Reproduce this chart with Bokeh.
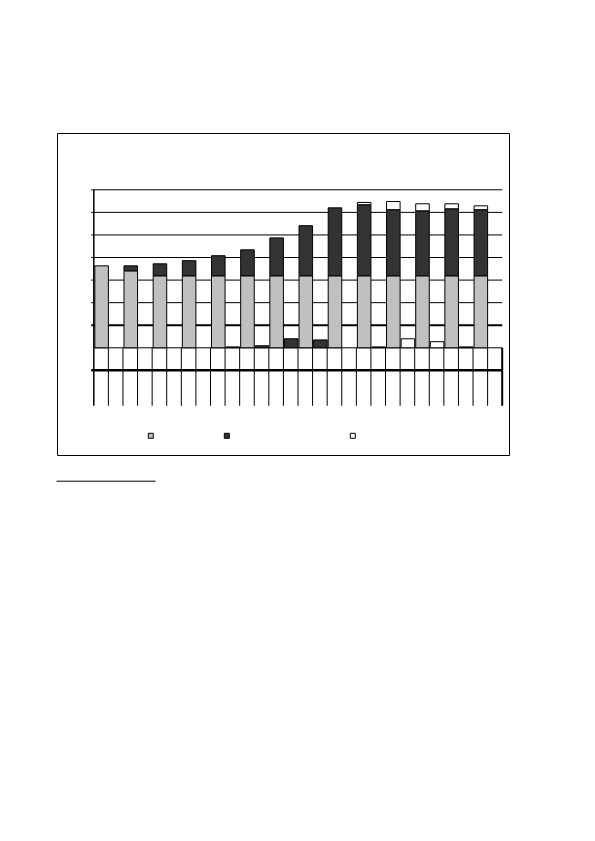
from bokeh.plotting import figure
from bokeh.models import Range1d
from bokeh.embed import file_html
from bokeh.resources import INLINE

# ---- data (value units = gridline steps) ----
main_gray = [3.63, 3.41, 3.19, 3.19, 3.19, 3.19, 3.19, 3.19, 3.19, 3.19, 3.19, 3.19, 3.19, 3.19]
main_dark = [0.00, 0.22, 0.53, 0.67, 0.89, 1.15, 1.68, 2.22, 3.01, 3.15, 2.93, 2.88, 2.97, 2.93]
main_white = [0.00, 0.00, 0.00, 0.00, 0.00, 0.00, 0.00, 0.00, 0.00, 0.10, 0.36, 0.31, 0.22, 0.17]
side_dark = [0.00, 0.00, 0.00, 0.00, 0.04, 0.09, 0.40, 0.35, 0.00, 0.04, 0.00, 0.00, 0.04, 0.00]
side_white = [0.00, 0.00, 0.00, 0.00, 0.00, 0.00, 0.00, 0.00, 0.00, 0.00, 0.40, 0.27, 0.00, 0.00]
gridlines = [1, 2, 3, 4, 5, 6, 7]
n_slots = 28
y_bottom = -2.57

GRAY = "#c0c0c0"
DARK = "#333333"

# ---- layout constants (pixel mapping) ----
X0, SX = 93.3, 14.586
Y0, SY = 347.3, 22.57
def ux(px): return (px - X0) / SX
def uy(py): return (Y0 - py) / SY

OFF = 0  # page origin of the figure
W, H = 579, 500
fl, fr, ft, fb = 50, 515, 125, 490
p = figure(width=W, height=H, output_backend="svg", toolbar_location=None,
           x_range=Range1d(ux(fl), ux(fr)), y_range=Range1d(uy(fb), uy(ft)),
           min_border_left=fl - OFF, min_border_right=OFF + W - fr,
           min_border_top=ft - OFF, min_border_bottom=OFF + H - fb,
           x_axis_location=None, y_axis_location=None)
p.grid.visible = False
p.outline_line_color = None
p.background_fill_color = "white"
p.border_fill_color = "white"

# outer chart frame
p.quad(left=[ux(57)], right=[ux(509)], top=[uy(133)], bottom=[uy(455)],
       fill_color=None, line_color="black", line_width=1)

# horizontal gridlines
tick = ux(X0 - 2.5)
for g in gridlines:
    p.segment(x0=[tick], x1=[n_slots], y0=[g], y1=[g], line_color="black",
              line_width=2 if g == 1 else 1)
p.segment(x0=[0], x1=[n_slots], y0=[0], y1=[0], line_color="black", line_width=1)
p.segment(x0=[tick], x1=[n_slots], y0=[-1], y1=[-1], line_color="black", line_width=2.5)

# vertical separators below baseline
xs = list(range(1, n_slots))
p.segment(x0=xs, x1=xs, y0=[0] * len(xs), y1=[y_bottom] * len(xs), line_color="black", line_width=1)
p.segment(x0=[n_slots], x1=[n_slots], y0=[0], y1=[y_bottom], line_color="black", line_width=2)
# value axis
p.segment(x0=[0], x1=[0], y0=[gridlines[-1]], y1=[y_bottom], line_color="black", line_width=1.5)

# bars
def stack(slots, layers, colors):
    base = [0.0] * len(slots)
    for vals, col in zip(layers, colors):
        L, R, T, B = [], [], [], []
        for s, b, v in zip(slots, base, vals):
            if v > 0:
                L.append(s + 0.07); R.append(s + 1.0); B.append(b); T.append(b + v)
        if L:
            p.quad(left=L, right=R, top=T, bottom=B, fill_color=col,
                   line_color="black", line_width=1)
        base = [b + v for b, v in zip(base, vals)]

main_slots = [2 * i for i in range(len(main_gray))]
side_slots = [2 * i + 1 for i in range(len(side_dark))]
stack(main_slots, [main_gray, main_dark, main_white], [GRAY, DARK, "white"])
stack(side_slots, [side_dark, side_white], [DARK, "white"])

# legend markers
ly = uy(435.3)
for lx, col in [(150.3, GRAY), (226.3, DARK), (352.3, "white")]:
    p.scatter(x=[ux(lx)], y=[ly], marker="square", size=5, fill_color=col,
              line_color="black", line_width=1)

# footnote rule
p.segment(x0=[ux(56)], x1=[ux(155)], y0=[uy(480.7)], y1=[uy(480.7)], line_color="black", line_width=1)

open("out.html", "w").write(file_html(p, INLINE))
